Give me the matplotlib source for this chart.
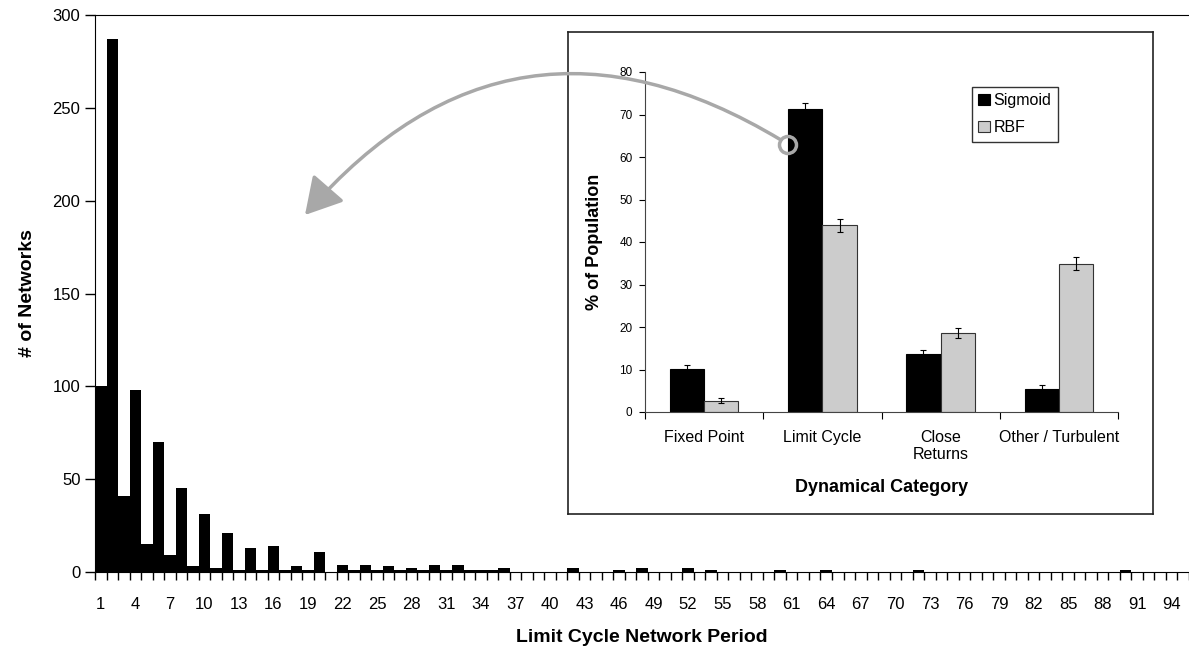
import matplotlib
matplotlib.use("Agg")
import matplotlib.pyplot as plt
import numpy as np
from matplotlib.patches import FancyArrowPatch, Circle

plt.rcParams['font.family'] = ['Liberation Sans', 'DejaVu Sans']

# main histogram: number of networks per limit cycle period (1..95)
periods = np.arange(1, 96)
counts = np.zeros(95, dtype=int)
nonzero = {1: 100, 2: 287, 3: 41, 4: 98, 5: 15, 6: 70, 7: 9, 8: 45, 9: 3, 10: 31,
           11: 2, 12: 21, 13: 1, 14: 13, 15: 1, 16: 14, 17: 1, 18: 3, 19: 1, 20: 11,
           22: 4, 23: 1, 24: 4, 25: 1, 26: 3, 27: 1, 28: 2, 29: 1, 30: 4, 31: 1,
           32: 4, 33: 1, 34: 1, 35: 1, 36: 2, 42: 2, 46: 1, 48: 2, 52: 2, 54: 1,
           60: 1, 64: 1, 72: 1, 90: 1}
for p, c in nonzero.items():
    counts[p - 1] = c

# inset: dynamical category percentages
categories = ["Fixed Point", "Limit Cycle", "Close\nReturns", "Other / Turbulent"]
sigmoid = [10.1, 71.2, 13.6, 5.5]
sigmoid_err = [0.9, 1.5, 1.0, 0.9]
rbf = [2.7, 43.9, 18.6, 34.9]
rbf_err = [0.5, 1.6, 1.2, 1.5]

W, H = 1189, 651
fig = plt.figure(figsize=(W / 100, H / 100), dpi=100)


def fbox(x0, y0, x1, y1):
    # pixel box (top-left origin) -> figure fraction rect
    return [x0 / W, 1 - y1 / H, (x1 - x0) / W, (y1 - y0) / H]


ax = fig.add_axes(fbox(95, 15, 1189, 572))
idx = np.arange(len(periods))
ax.bar(idx, counts, width=1.0, color="black", linewidth=0)
ax.set_xlim(-0.5, len(periods) - 0.5)
ax.set_ylim(0, 300)
ax.set_yticks(range(0, 301, 50))
ax.set_xticks(idx[::3])
ax.set_xticklabels([str(p) for p in periods[::3]])
ax.set_xticks(np.arange(-0.5, len(periods), 1.0), minor=True)
ax.tick_params(axis="x", which="major", length=0, labelsize=12, pad=18)
ax.tick_params(axis="x", which="minor", length=6, width=1, direction="out")
ax.tick_params(axis="y", length=7, width=1, labelsize=12, direction="out")
ax.spines["right"].set_visible(False)
ax.set_xlabel("Limit Cycle Network Period", fontsize=14, fontweight="bold", labelpad=12)
ax.set_ylabel("# of Networks", fontsize=14, fontweight="bold", labelpad=12)

# inset frame
frame = fig.add_axes(fbox(568, 32, 1153, 514))
frame.set_xticks([])
frame.set_yticks([])
frame.set_facecolor("white")
for s in frame.spines.values():
    s.set_linewidth(1.2)
    s.set_color("#222222")

ins = fig.add_axes(fbox(645, 72, 1118, 412))
x = np.arange(len(categories))
bw = 0.29
ins.bar(x - bw / 2, sigmoid, bw, color="black", edgecolor="black", linewidth=0.8,
        yerr=sigmoid_err, capsize=2.5, error_kw=dict(elinewidth=0.8, capthick=0.8),
        label="Sigmoid")
ins.bar(x + bw / 2, rbf, bw, color="#cccccc", edgecolor="#333333", linewidth=0.8,
        yerr=rbf_err, capsize=2.5, error_kw=dict(elinewidth=0.8, capthick=0.8),
        label="RBF")
ins.set_xlim(-0.5, len(categories) - 0.5)
ins.set_ylim(0, 80)
ins.set_yticks(range(0, 81, 10))
ins.set_xticks(x)
ins.set_xticklabels(categories)
ins.set_xticks(np.arange(-0.5, len(categories), 1.0), minor=True)
ins.tick_params(axis="x", which="major", length=0, labelsize=11.5, pad=13)
ins.tick_params(axis="x", which="minor", length=5, width=0.8, direction="out")
ins.tick_params(axis="y", length=4, width=0.8, labelsize=8.5, direction="out", pad=5)
for s in ["top", "right"]:
    ins.spines[s].set_visible(False)
for s in ["left", "bottom"]:
    ins.spines[s].set_color("#444444")
ins.set_xlabel("Dynamical Category", fontsize=13, fontweight="bold", labelpad=12)
ins.set_ylabel("% of Population", fontsize=13, fontweight="bold", labelpad=12)
leg = ins.legend(loc="upper left", bbox_to_anchor=(972 / W, 1 - 87 / H),
                 bbox_transform=fig.transFigure, frameon=True, fancybox=False,
                 fontsize=11.5, handlelength=0.7, handleheight=0.7, handletextpad=0.25,
                 borderpad=0.4, labelspacing=0.75, borderaxespad=0)
leg.get_frame().set_edgecolor("black")
leg.get_frame().set_linewidth(1.0)

# curved grey arrow from the limit cycle bar to the histogram
grey = "#a8a8a8"
start = (781 / W, 1 - 140 / H)
end = (305 / W, 1 - 215 / H)
arrow = FancyArrowPatch(start, end, transform=fig.transFigure,
                        connectionstyle="arc3,rad=0.42",
                        arrowstyle="-|>,head_length=1.4,head_width=0.8",
                        mutation_scale=16, color=grey, linewidth=2.5,
                        shrinkA=0, shrinkB=0, zorder=10)
fig.add_artist(arrow)
ring = Circle((788, H - 145), 8.5, transform=None, fill=False,
              edgecolor=grey, linewidth=2.5, zorder=11)
fig.add_artist(ring)

fig.savefig("out.png", dpi=100)
